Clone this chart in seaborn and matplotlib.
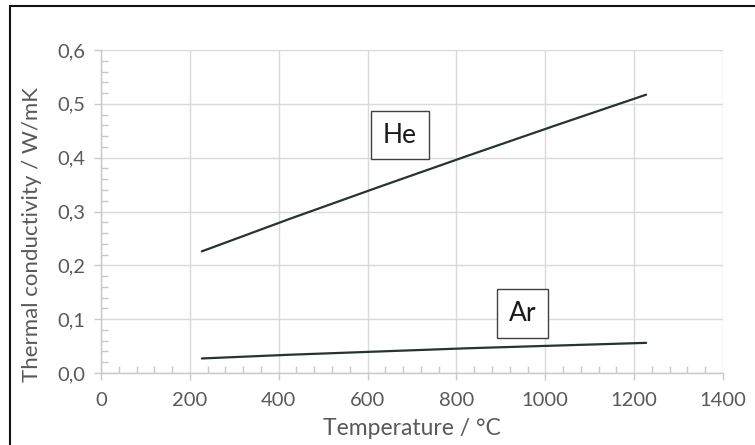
import matplotlib
matplotlib.use("Agg")
import matplotlib.pyplot as plt
from matplotlib.lines import Line2D
from matplotlib.ticker import MultipleLocator, FuncFormatter
import seaborn as sns
import pandas as pd

temperature = [227, 427, 627, 827, 1027, 1227]
he_conductivity = [0.226, 0.287, 0.346, 0.404, 0.461, 0.517]
ar_conductivity = [0.027, 0.034, 0.040, 0.046, 0.051, 0.056]
x_label = "Temperature / °C"
y_label = "Thermal conductivity / W/mK"

df = pd.DataFrame({
    "T": temperature * 2,
    "k": he_conductivity + ar_conductivity,
    "gas": ["He"] * len(temperature) + ["Ar"] * len(temperature),
})

sns.set_style("white")
plt.rcParams["font.family"] = ["Lato", "DejaVu Sans"]

text_col = "#595959"
grid_col = "#d9d9d9"
tick_col = "#c8c8c8"
line_col = "#263333"

fig = plt.figure(figsize=(7.55, 4.45), dpi=100)
ax = fig.add_axes([0.1338, 0.1618, 0.9576 - 0.1338, 0.8876 - 0.1618])

sns.lineplot(data=df, x="T", y="k", units="gas", estimator=None,
             color=line_col, linewidth=1.6, ax=ax, legend=False)

ax.set_xlim(0, 1400)
ax.set_ylim(0, 0.6)
ax.xaxis.set_major_locator(MultipleLocator(200))
ax.xaxis.set_minor_locator(MultipleLocator(40))
ax.yaxis.set_major_locator(MultipleLocator(0.1))
ax.yaxis.set_minor_locator(MultipleLocator(0.02))
ax.yaxis.set_major_formatter(FuncFormatter(lambda v, p: f"{v:.1f}".replace(".", ",")))

ax.grid(True, which="major", color=grid_col, linewidth=1.0)
ax.set_axisbelow(True)
for s in ["top", "right"]:
    ax.spines[s].set_visible(False)
for s in ["left", "bottom"]:
    ax.spines[s].set_color(tick_col)
    ax.spines[s].set_linewidth(1.0)

ax.tick_params(axis="both", which="both", bottom=True, left=True, top=False, right=False)
ax.tick_params(axis="both", which="major", direction="out", length=5, width=1,
               color=tick_col, labelcolor=text_col, labelsize=14.5, pad=6)
ax.tick_params(axis="both", which="minor", direction="in", length=5, width=1,
               color=tick_col)
ax.tick_params(axis="x", which="major", pad=9)

ax.set_xlabel(x_label, fontsize=16.5, color=text_col, labelpad=6)
ax.set_ylabel(y_label, fontsize=16, color=text_col, labelpad=8)
ax.yaxis.set_label_coords(-0.095, 0.43)

box = dict(boxstyle="square,pad=0.45", facecolor="white", edgecolor="#404040", linewidth=1.0)
ax.text(673, 0.442, "He", fontsize=19, color="#1a1a1a", ha="center", va="center", bbox=box)
ax.text(948, 0.111, "Ar", fontsize=19, color="#1a1a1a", ha="center", va="center", bbox=box)

# outer border (top and left visible)
fig.add_artist(Line2D([9.5 / 755, 1.0], [1 - 5.5 / 445, 1 - 5.5 / 445],
                      transform=fig.transFigure, color="#111111", linewidth=1.5))
fig.add_artist(Line2D([9.5 / 755, 9.5 / 755], [0, 1 - 5.5 / 445],
                      transform=fig.transFigure, color="#111111", linewidth=1.5))

fig.savefig("out.png", dpi=100)
